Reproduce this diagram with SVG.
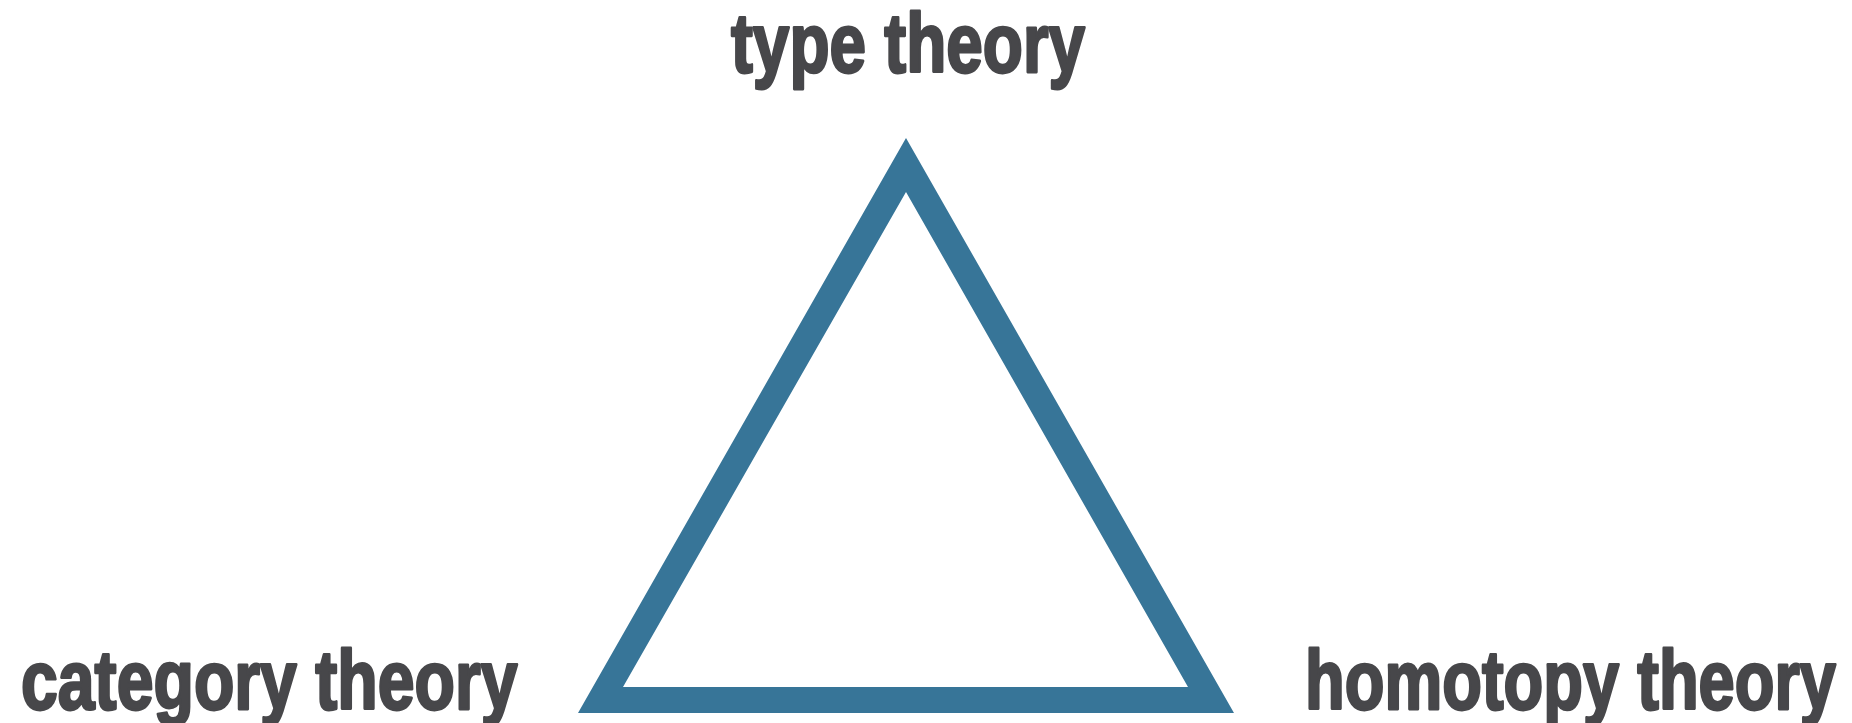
<svg xmlns="http://www.w3.org/2000/svg" width="1852" height="723" viewBox="0 0 1852 723">
<style>
.lbl{font-family:"Liberation Sans",Arial,sans-serif;font-weight:bold;font-size:84px;fill:#47474a;stroke:#47474a;stroke-width:2.8px;stroke-linejoin:round}
.tri{fill:#377598;fill-rule:evenodd}
</style>
<rect width="1852" height="723" fill="#ffffff"/>
<g id="connectors">
<path class="tri" d="M906 138 L1234 713 L578 713 Z M906 192 L623 687 L1188 687 Z"/>
</g>
<g id="type-theory"><text class="lbl" transform="translate(731,72) scale(0.782,1)">type theory</text></g>
<g id="category-theory"><text class="lbl" transform="translate(21,709) scale(0.788,1)">category theory</text></g>
<g id="homotopy-theory"><text class="lbl" transform="translate(1305,709) scale(0.774,1)">homotopy theory</text></g>
</svg>
